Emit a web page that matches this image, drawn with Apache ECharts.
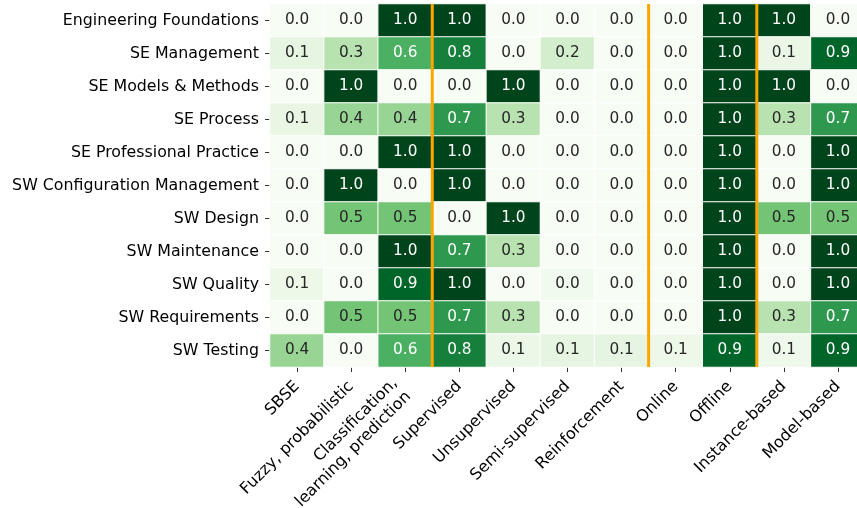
<!DOCTYPE html>
<html>
<head>
<meta charset="utf-8">
<script src="https://cdn.jsdelivr.net/npm/echarts@6/dist/echarts.min.js"></script>
<style>
html, body { margin: 0; padding: 0; background: #fff; }
#main { width: 857px; height: 508px; }
</style>
</head>
<body>
<div id="main"></div>
<script>
// 行：知识领域
var rowLabels = ['Engineering Foundations', 'SE Management', 'SE Models & Methods', 'SE Process',
	'SE Professional Practice', 'SW Configuration Management', 'SW Design', 'SW Maintenance',
	'SW Quality', 'SW Requirements', 'SW Testing'];

// 列：技术类别
var colLabels = ['SBSE', 'Fuzzy, probabilistic', 'Classification,\nlearning, prediction', 'Supervised',
	'Unsupervised', 'Semi-supervised', 'Reinforcement', 'Online', 'Offline', 'Instance-based', 'Model-based'];

// 每行的比例值
var values = [
	[0.0, 0.0, 1.0, 1.0, 0.0, 0.0, 0.0, 0.0, 1.0, 1.0, 0.0],
	[0.12, 0.3, 0.6, 0.8, 0.0, 0.2, 0.0, 0.0, 1.0, 0.09, 0.9],
	[0.0, 1.0, 0.0, 0.0, 1.0, 0.0, 0.0, 0.0, 1.0, 1.0, 0.0],
	[0.1, 0.4, 0.4, 0.7, 0.3, 0.0, 0.0, 0.0, 1.0, 0.3, 0.7],
	[0.0, 0.0, 1.0, 1.0, 0.0, 0.0, 0.0, 0.0, 1.0, 0.0, 1.0],
	[0.0, 1.0, 0.0, 1.0, 0.0, 0.0, 0.0, 0.0, 1.0, 0.0, 1.0],
	[0.0, 0.5, 0.5, 0.0, 1.0, 0.0, 0.0, 0.0, 1.0, 0.5, 0.5],
	[0.0, 0.0, 1.0, 0.7, 0.3, 0.0, 0.0, 0.0, 1.0, 0.0, 1.0],
	[0.07, 0.0, 0.9, 1.0, 0.0, 0.04, 0.0, 0.0, 1.0, 0.0, 1.0],
	[0.0, 0.5, 0.5, 0.7, 0.3, 0.0, 0.0, 0.0, 1.0, 0.3, 0.7],
	[0.4, 0.0, 0.6, 0.8, 0.08, 0.12, 0.12, 0.07, 0.9, 0.06, 0.9]
];

// 橙色分隔线所在的列边界
var separatorCols = [3, 7, 9];

var greens = ['#f7fcf5', '#e5f5e0', '#c7e9c0', '#a1d99b', '#74c476', '#41ab5d', '#238b45', '#006d2c', '#00441b'];
var fontName = 'DejaVu Sans';

var cells = [];
for (var i = 0; i < values.length; i++) {
	for (var j = 0; j < values[i].length; j++) {
		var v = values[i][j];
		cells.push({
			value: [j, i, v],
			label: { color: v > 0.55 ? '#ffffff' : '#262626' }
		});
	}
}

// 两行的标签稍微挪开一点，跟原图对齐
var xData = [];
for (var c = 0; c < colLabels.length; c++) {
	if (colLabels[c].indexOf('\n') >= 0) {
		xData.push({ value: colLabels[c], textStyle: { padding: [0, 5, 11, 0] } });
	} else {
		xData.push(colLabels[c]);
	}
}

var sepData = [];
for (var k = 0; k < separatorCols.length; k++) {
	sepData.push([separatorCols[k]]);
}

var chart = echarts.init(document.getElementById('main'));

var option = {
	animation: false,
	backgroundColor: '#ffffff',
	grid: {
		left: 270,
		top: 4,
		width: 595,
		height: 363,
		containLabel: false,
		outerBoundsMode: 'none'
	},
	visualMap: {
		show: false,
		seriesIndex: 0,
		dimension: 2,
		min: 0,
		max: 1,
		inRange: { color: greens }
	},
	xAxis: [
		{
			type: 'category',
			data: xData,
			position: 'bottom',
			axisLine: { show: false },
			axisTick: { show: true, alignWithLabel: true, length: 5, lineStyle: { color: '#333' } },
			axisLabel: {
				interval: 0,
				rotate: 45,
				margin: 17,
				fontSize: 16,
				fontFamily: fontName,
				color: '#000',
				lineHeight: 19
			},
			splitLine: { show: false }
		},
		{
			type: 'value',
			min: 0,
			max: 11,
			show: false
		}
	],
	yAxis: [
		{
			type: 'category',
			data: rowLabels,
			inverse: true,
			axisLine: { show: false },
			axisTick: { show: true, alignWithLabel: true, length: 5, lineStyle: { color: '#333' } },
			axisLabel: {
				interval: 0,
				margin: 11,
				fontSize: 15.8,
				fontFamily: fontName,
				color: '#000'
			},
			splitLine: { show: false }
		},
		{
			type: 'value',
			min: 0,
			max: 1,
			show: false
		}
	],
	series: [
		{
			type: 'heatmap',
			data: cells,
			itemStyle: { borderColor: '#ffffff', borderWidth: 1 },
			label: {
				show: true,
				fontSize: 15.3,
				fontFamily: fontName,
				formatter: function (p) {
					return p.value[2].toFixed(1);
				}
			},
			emphasis: { disabled: true }
		},
		{
			type: 'custom',
			xAxisIndex: 1,
			yAxisIndex: 1,
			silent: true,
			z: 5,
			data: sepData,
			renderItem: function (params, api) {
				var top = api.coord([api.value(0), 1]);
				var bottom = api.coord([api.value(0), 0]);
				return {
					type: 'line',
					shape: { x1: top[0], y1: top[1], x2: bottom[0], y2: bottom[1] },
					style: { stroke: '#ffa500', lineWidth: 3 }
				};
			}
		}
	]
};

chart.setOption(option);
</script>
</body>
</html>
